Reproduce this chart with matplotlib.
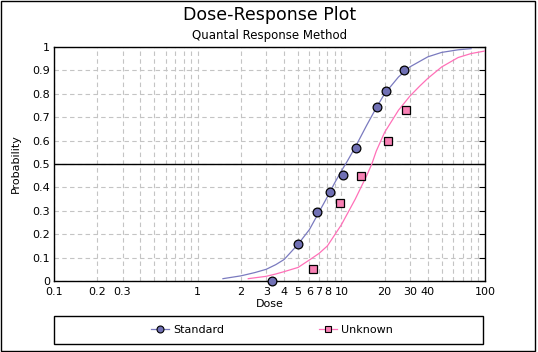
import matplotlib
matplotlib.use("Agg")
import matplotlib.pyplot as plt
from matplotlib.patches import Rectangle

# observed points
std_dose = [3.3, 5.0, 6.8, 8.3, 10.3, 12.6, 17.7, 20.4, 27.1]
std_prob = [0.0, 0.16, 0.295, 0.38, 0.453, 0.568, 0.744, 0.813, 0.902]
unk_dose = [6.4, 9.8, 13.8, 21.2, 28.3]
unk_prob = [0.051, 0.332, 0.45, 0.60, 0.729]

# fitted curves
std_curve_dose = [1.5, 2.0, 2.5, 3.0, 3.5, 4.0, 5.0, 6.0, 7.0, 8.0, 9.0, 10.0,
                  11.0, 12.5, 15.0, 17.5, 20.0, 25.0, 30.0, 40.0, 50.0, 65.0, 80.0]
std_curve_prob = [0.010, 0.022, 0.036, 0.050, 0.070, 0.092, 0.157, 0.220, 0.295, 0.360,
                  0.420, 0.470, 0.512, 0.572, 0.665, 0.740, 0.800, 0.872, 0.915, 0.958,
                  0.977, 0.988, 0.993]
unk_curve_dose = [2.25, 3.0, 3.5, 4.0, 5.0, 6.0, 7.0, 8.0, 10.0, 12.5, 15.0, 16.3,
                  17.5, 20.0, 25.0, 30.0, 35.0, 40.0, 50.0, 65.0, 80.0, 100.0]
unk_curve_prob = [0.010, 0.020, 0.030, 0.040, 0.058, 0.090, 0.118, 0.150, 0.240, 0.350,
                  0.450, 0.500, 0.555, 0.635, 0.730, 0.790, 0.832, 0.866, 0.915, 0.955,
                  0.972, 0.983]

x_ticks = [0.1, 0.2, 0.3, 0.4, 0.5, 0.6, 0.7, 0.8, 0.9,
           1, 2, 3, 4, 5, 6, 7, 8, 9,
           10, 20, 30, 40, 50, 60, 70, 80, 90, 100]
x_labels = ["0.1", "0.2", "0.3", "", "", "", "", "", "",
            "1", "2", "3", "4", "5", "6", "7", "8", "",
            "10", "20", "30", "40", "", "", "", "", "", "100"]
y_ticks = [0, 0.1, 0.2, 0.3, 0.4, 0.5, 0.6, 0.7, 0.8, 0.9, 1]
y_labels = ["0", "0.1", "0.2", "0.3", "0.4", "0.5", "0.6", "0.7", "0.8", "0.9", "1"]

std_col = "#7a7abf"
std_face = "#7070b4"
unk_col = "#ff70b8"
unk_face = "#f880b4"

plt.rcParams["font.family"] = "DejaVu Sans"
fig = plt.figure(figsize=(5.38, 3.52), dpi=100)
ax = fig.add_axes([54 / 538, 1 - 281 / 352, 431 / 538, 234 / 352])

ax.set_xscale("log")
ax.set_xlim(0.1, 100)
ax.set_ylim(0, 1)

ax.set_xticks(x_ticks)
ax.set_xticklabels(x_labels)
ax.xaxis.set_minor_locator(matplotlib.ticker.NullLocator())
ax.set_yticks(y_ticks)
ax.set_yticklabels(y_labels)

ax.grid(True, color="#c4c4c4", linestyle=(0, (4, 3)), linewidth=0.8)
ax.tick_params(axis="x", length=0, pad=4, labelsize=8)
ax.tick_params(axis="y", left=False, right=True, direction="in", length=4,
               labelsize=8, pad=3)
for s in ax.spines.values():
    s.set_linewidth(1.0)
    s.set_color("black")

ax.axhline(0.5, color="black", linewidth=1.0, zorder=2)

ax.plot(std_curve_dose, std_curve_prob, color=std_col, linewidth=0.9, zorder=3)
ax.plot(unk_curve_dose, unk_curve_prob, color=unk_col, linewidth=0.9, zorder=3)
ax.plot(std_dose, std_prob, linestyle="none", marker="o", markersize=6.3,
        markerfacecolor=std_face, markeredgecolor="black", markeredgewidth=0.9,
        zorder=4, clip_on=False)
ax.plot(unk_dose, unk_prob, linestyle="none", marker="s", markersize=5.8,
        markerfacecolor=unk_face, markeredgecolor="black", markeredgewidth=0.9,
        zorder=4, clip_on=False)

ax.set_xlabel("Dose", fontsize=8, labelpad=2)
ax.set_ylabel("Probability", fontsize=8, labelpad=8)

fig.text(270 / 538, 1 - 15 / 352, "Dose-Response Plot", ha="center", va="center",
         fontsize=12.5)
fig.text(270 / 538, 1 - 35 / 352, "Quantal Response Method", ha="center",
         va="center", fontsize=8.5)

# legend
h1, = ax.plot([], [], color=std_col, linewidth=0.9, marker="o", markersize=5,
              markerfacecolor=std_face, markeredgecolor="black", markeredgewidth=0.8)
h2, = ax.plot([], [], color=unk_col, linewidth=0.9, marker="s", markersize=5,
              markerfacecolor=unk_face, markeredgecolor="black", markeredgewidth=0.8)
leg = fig.legend([h1, h2], ["Standard", "Unknown"], ncol=2, fontsize=8,
                 bbox_to_anchor=(272 / 538, 1 - 330 / 352), loc="center",
                 frameon=False, handlelength=1.6, handletextpad=0.4,
                 columnspacing=8.5)

fig.patches.append(Rectangle((54 / 538, 1 - 344 / 352), 429 / 538, 28 / 352,
                             transform=fig.transFigure, fill=False,
                             edgecolor="black", linewidth=1.0))
fig.patches.append(Rectangle((0.5 / 538, 1 - 350.5 / 352), 534.5 / 538, 350 / 352,
                             transform=fig.transFigure, fill=False,
                             edgecolor="black", linewidth=1.0))

fig.savefig("out.png", dpi=100)
